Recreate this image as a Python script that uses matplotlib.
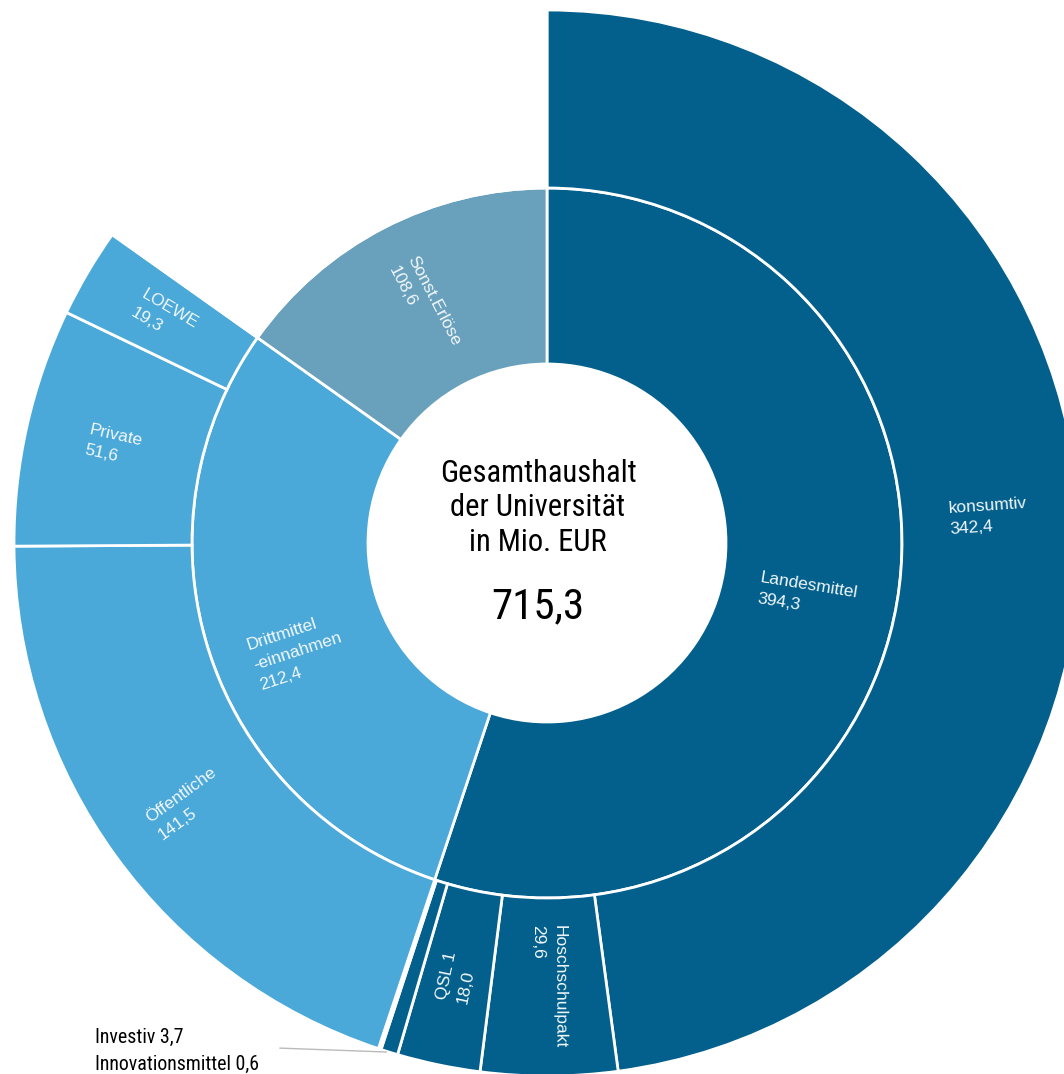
import numpy as np
import matplotlib
matplotlib.use('Agg')
import matplotlib.pyplot as plt
from matplotlib import font_manager

# data
total = 715.3
inner_labels = ['Landesmittel', 'Drittmittel\n-einnahmen', 'Sonst.Erlöse']
inner_values = [394.3, 212.4, 108.6]
inner_texts = ['394,3', '212,4', '108,6']
outer_labels = ['konsumtiv', 'Hoschschulpakt', 'QSL 1', 'Investiv', 'Innovationsmittel',
                'Öffentliche', 'Private', 'LOEWE']
outer_values = [342.4, 29.6, 18.0, 3.7, 0.6, 141.5, 51.6, 19.3]
outer_texts = ['342,4', '29,6', '18,0', '3,7', '0,6', '141,5', '51,6', '19,3']
outer_parent = [0, 0, 0, 0, 0, 1, 1, 1]

inner_colors = ['#03608c', '#4aa9d9', '#69a1bd']
R1, R2, R3 = 179, 355, 533

# label placement tweaks (angle in degrees, radius)
label_pos = {'konsumtiv': (3.5, 442), 'Drittmittel\n-einnahmen': (203.5, 272),
             'Landesmittel': (-11.5, 266)}

names = {f.name for f in font_manager.fontManager.ttflist}
narrow_name = None
for n in ['Liberation Sans Narrow', 'Roboto Condensed', 'Open Sans Condensed',
          'Noto Sans Condensed', 'DejaVu Sans Condensed']:
    if n in names:
        narrow_name = n
        break
lab_font = ['Liberation Sans', 'DejaVu Sans']
if narrow_name:
    narrow = [narrow_name, 'Liberation Sans', 'DejaVu Sans']
    c_size, n_size, note_size = 22, 31, 14.3
else:
    narrow = lab_font
    c_size, n_size, note_size = 20, 28, 13

fig = plt.figure(figsize=(10.64, 10.74), dpi=100)
ax = fig.add_axes([0, 0, 1, 1])

ax.pie(inner_values, radius=R2, startangle=90, counterclock=False, colors=inner_colors,
       wedgeprops=dict(width=R2 - R1, edgecolor='white', linewidth=2))
outer_colors = [inner_colors[p] for p in outer_parent] + ['none']
ax.pie(outer_values + [inner_values[2]], radius=R3, startangle=90, counterclock=False,
       colors=outer_colors, wedgeprops=dict(width=R3 - R2, edgecolor='white', linewidth=2))

ax.set_xlim(-547, 1064 - 547)
ax.set_ylim(-(1074 - 543), 543)
ax.set_aspect('equal')
ax.axis('off')


def mid_angles(vals):
    cum = np.cumsum([0] + list(vals))
    return [90 - 360 * (cum[i] + vals[i] / 2) / total for i in range(len(vals))]


def radial(a):
    a = (a + 180) % 360 - 180
    if a > 90:
        a -= 180
    elif a <= -90:
        a += 180
    return a


def seg_label(lab, txt, a, r):
    rot = radial(a)
    if lab in label_pos:
        a, r = label_pos[lab]
    x, y = r * np.cos(np.radians(a)), r * np.sin(np.radians(a))
    ax.text(x, y, lab + '\n' + txt, rotation=rot, rotation_mode='anchor',
            ha='center', va='center', multialignment='left', color='#f2f7fa',
            fontsize=12.5, family=lab_font, linespacing=1.5)


for lab, txt, a in zip(inner_labels, inner_texts, mid_angles(inner_values)):
    seg_label(lab, txt, a, (R1 + R2) / 2)

# tiny segments get an external note instead
for v, lab, txt, a in zip(outer_values, outer_labels, outer_texts, mid_angles(outer_values)):
    if v < 5:
        continue
    seg_label(lab, txt, a, (R2 + R3) / 2)

# center text
ax.text(-9, 35, 'Gesamthaushalt\nder Universität\nin Mio. EUR', ha='center', va='center',
        fontsize=c_size, family=narrow, linespacing=1.25, color='black')
ax.text(-9, -64, '715,3', ha='center', va='center', fontsize=n_size, family=narrow, color='black')

# note for small segments
a_inv = mid_angles(outer_values)[3]
pt = (R3 * np.cos(np.radians(a_inv)), R3 * np.sin(np.radians(a_inv)))
ax.annotate('', xy=pt, xytext=(-270, -505),
            arrowprops=dict(arrowstyle='-', color='#bbbbbb', lw=1))
ax.text(-452, -508, 'Investiv 3,7\nInnovationsmittel 0,6', ha='left', va='center',
        fontsize=note_size, family=narrow, linespacing=1.5, color='black')

fig.savefig('out.png', dpi=100)
